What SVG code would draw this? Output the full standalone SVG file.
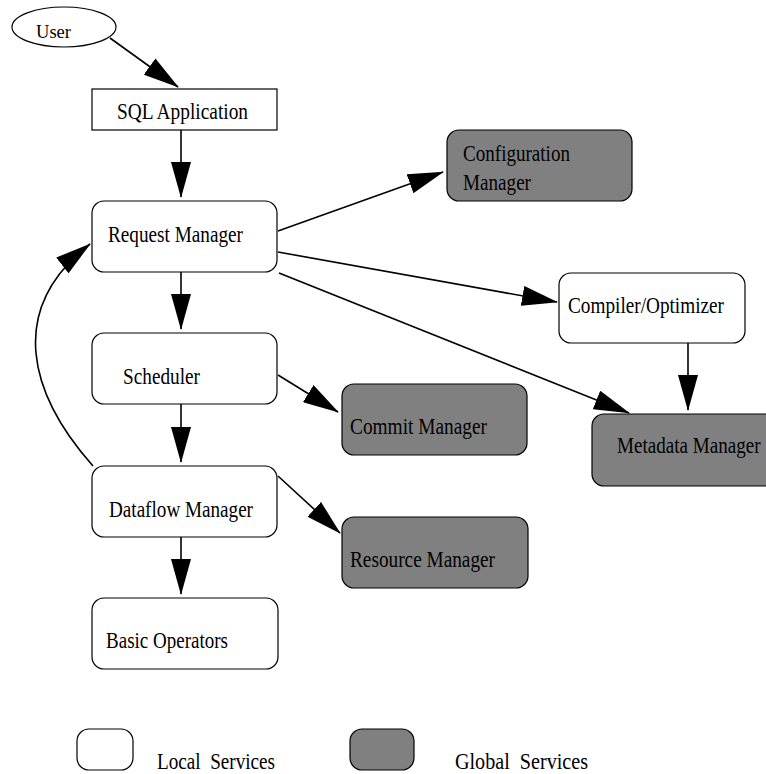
<svg xmlns="http://www.w3.org/2000/svg" width="766" height="774" viewBox="0 0 766 774">
<defs>
<marker id="ah" markerUnits="userSpaceOnUse" markerWidth="36" markerHeight="20" viewBox="0 0 36 20" refX="35" refY="10" orient="auto">
<path d="M0,0 L36,10 L0,20 z" fill="#000"/>
</marker>
<style>
.n{stroke:#000;stroke-width:1.2}
.w{fill:#fff}
.g{fill:#808080}
.t{font-family:"Liberation Serif","Times New Roman",serif;font-size:24px;fill:#000}
.c{fill:none;stroke:#000;stroke-width:1.6;marker-end:url(#ah)}
</style>
</defs>
<rect width="766" height="774" fill="#fff"/>
<g id="connectors">
<line class="c" x1="110" y1="38" x2="178" y2="87"/>
<line class="c" x1="181" y1="130" x2="181" y2="197"/>
<line class="c" x1="181" y1="272" x2="181" y2="329"/>
<line class="c" x1="181" y1="404" x2="181" y2="462"/>
<line class="c" x1="181" y1="537" x2="181" y2="594"/>
<line class="c" x1="278" y1="231" x2="443" y2="172"/>
<line class="c" x1="278" y1="252" x2="557" y2="302"/>
<line class="c" x1="279" y1="273" x2="629" y2="413"/>
<line class="c" x1="688" y1="343" x2="688" y2="410"/>
<line class="c" x1="278" y1="375" x2="338" y2="412"/>
<line class="c" x1="278" y1="476" x2="340" y2="533"/>
<path class="c" d="M93,466 C30,395 5,310 90,244"/>
</g>
<g id="user">
<ellipse class="n w" cx="64" cy="27" rx="52" ry="20"/>
<text x="36" y="38" style="font-family:'Liberation Serif',serif;font-size:18px" textLength="35" lengthAdjust="spacingAndGlyphs">User</text>
</g>
<g id="sql-application">
<rect class="n w" x="92" y="89" width="185" height="41"/>
<text class="t" x="117" y="119" textLength="131" lengthAdjust="spacingAndGlyphs">SQL Application</text>
</g>
<g id="request-manager">
<rect class="n w" x="92" y="201" width="185" height="71" rx="12"/>
<text class="t" x="108" y="242" textLength="135" lengthAdjust="spacingAndGlyphs">Request Manager</text>
</g>
<g id="configuration-manager">
<rect class="n g" x="447" y="130" width="185" height="71" rx="12"/>
<text class="t" x="463" y="161" textLength="107" lengthAdjust="spacingAndGlyphs">Configuration</text>
<text class="t" x="463" y="190" textLength="68" lengthAdjust="spacingAndGlyphs">Manager</text>
</g>
<g id="compiler-optimizer">
<rect class="n w" x="559" y="273" width="186" height="70" rx="12"/>
<text class="t" x="568" y="313" textLength="156" lengthAdjust="spacingAndGlyphs">Compiler/Optimizer</text>
</g>
<g id="scheduler">
<rect class="n w" x="92" y="333" width="185" height="71" rx="12"/>
<text class="t" x="123" y="384" textLength="77" lengthAdjust="spacingAndGlyphs">Scheduler</text>
</g>
<g id="commit-manager">
<rect class="n g" x="342" y="384" width="185" height="71" rx="12"/>
<text class="t" x="350" y="434" textLength="137" lengthAdjust="spacingAndGlyphs">Commit Manager</text>
</g>
<g id="metadata-manager">
<rect class="n g" x="592" y="414" width="186" height="72" rx="12"/>
<text class="t" transform="translate(617,453) scale(0.795,1)" x="0" y="0">Metadata Manager</text>
</g>
<g id="dataflow-manager">
<rect class="n w" x="92" y="466" width="185" height="71" rx="12"/>
<text class="t" x="109" y="517" textLength="144" lengthAdjust="spacingAndGlyphs">Dataflow Manager</text>
</g>
<g id="resource-manager">
<rect class="n g" x="342" y="517" width="186" height="71" rx="12"/>
<text class="t" x="350" y="567" textLength="145" lengthAdjust="spacingAndGlyphs">Resource Manager</text>
</g>
<g id="basic-operators">
<rect class="n w" x="92" y="598" width="186" height="71" rx="12"/>
<text class="t" x="106" y="648" textLength="122" lengthAdjust="spacingAndGlyphs">Basic Operators</text>
</g>
<g id="legend-local">
<rect class="n w" x="77" y="729" width="56" height="41" rx="12"/>
<text class="t" x="157" y="769" textLength="118" lengthAdjust="spacingAndGlyphs" xml:space="preserve">Local  Services</text>
</g>
<g id="legend-global">
<rect class="n g" x="350" y="729" width="64" height="41" rx="12"/>
<text class="t" x="455" y="769" textLength="133" lengthAdjust="spacingAndGlyphs" xml:space="preserve">Global  Services</text>
</g>
</svg>
